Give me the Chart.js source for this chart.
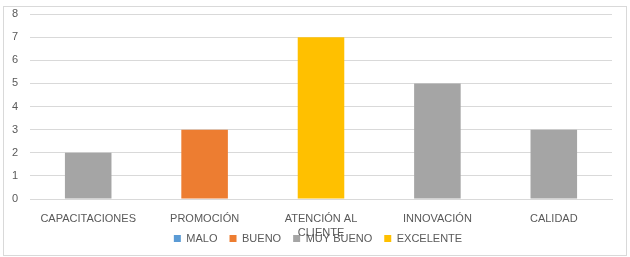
<!DOCTYPE html>
<html>
<head>
<meta charset="utf-8">
<script src="https://cdn.jsdelivr.net/npm/chart.js@4"></script>
<style>
  html, body { margin: 0; padding: 0; background: #fff; }
  #wrap { width: 630px; height: 257px; }
</style>
</head>
<body>
<div id="wrap"><canvas id="chart_1" width="630" height="257"></canvas></div>
<script>
// categorias y valores
const labels = ['CAPACITACIONES', 'PROMOCIÓN', ['ATENCIÓN AL', 'CLIENTE'], 'INNOVACIÓN', 'CALIDAD'];
const malo = [null, null, null, null, null];
const bueno = [null, 3, null, null, null];
const muyBueno = [2, null, null, 5, 3];
const excelente = [null, null, 7, null, null];
const yTicks = [0, 1, 2, 3, 4, 5, 6, 7, 8];

const textColor = '#595959';
const gridColor = '#D9D9D9';
const font = { family: "'Liberation Sans', Arial, sans-serif", size: 11, lineHeight: '14px' };

// marco gris claro alrededor del grafico
const chartFrame = {
  id: 'chartFrame',
  beforeDraw(chart) {
    const { ctx } = chart;
    ctx.save();
    ctx.fillStyle = '#fff';
    ctx.fillRect(0, 0, chart.width, chart.height);
    ctx.strokeStyle = '#D9D9D9';
    ctx.lineWidth = 1;
    ctx.strokeRect(3.5, 6.5, 623, 249);
    ctx.restore();
  },
  // la leyenda se superpone a la segunda linea de "ATENCIÓN AL CLIENTE"
  afterLayout(chart) {
    const lg = chart.legend;
    lg.top = 221;
    lg.bottom = 257;
    lg.height = 36;
    lg.left = 12;
    lg.right = 624;
    lg.width = 612;
  }
};

const chartData = {
  labels,
  datasets: [
    { label: 'MALO', data: malo, backgroundColor: '#5B9BD5' },
    { label: 'BUENO', data: bueno, backgroundColor: '#ED7D31' },
    { label: 'MUY BUENO', data: muyBueno, backgroundColor: '#A5A5A5' },
    { label: 'EXCELENTE', data: excelente, backgroundColor: '#FFC000' }
  ]
};

const config = {
  type: 'bar',
  data: chartData,
  options: {
    responsive: false,
    animation: false,
    datasets: { bar: { categoryPercentage: 1, barPercentage: 0.4 } },
    layout: { padding: { left: 0, right: 18, top: 14, bottom: 0 } },
    plugins: {
      legend: {
        position: 'bottom',
        maxHeight: 5,
        labels: { boxWidth: 7, boxHeight: 7, padding: 12, color: textColor, font }
      },
      tooltip: { enabled: false }
    },
    scales: {
      x: {
        stacked: true,
        grid: { display: false },
        border: { display: true, color: gridColor },
        ticks: { color: textColor, font, padding: 5, maxRotation: 0, autoSkip: false },
        afterFit(scale) { scale.height = 53; }
      },
      y: {
        stacked: true,
        min: yTicks[0],
        max: yTicks[yTicks.length - 1],
        grid: { color: gridColor, drawTicks: false },
        border: { display: false },
        ticks: { stepSize: 1, color: textColor, font, padding: 12 },
        afterFit(scale) {
          scale.width = 30;
          scale.paddingTop = 0;
          scale.paddingBottom = 0;
        }
      }
    }
  },
  plugins: [chartFrame]
};

const chart_1 = new Chart(document.getElementById('chart_1'), config);
</script>
</body>
</html>
